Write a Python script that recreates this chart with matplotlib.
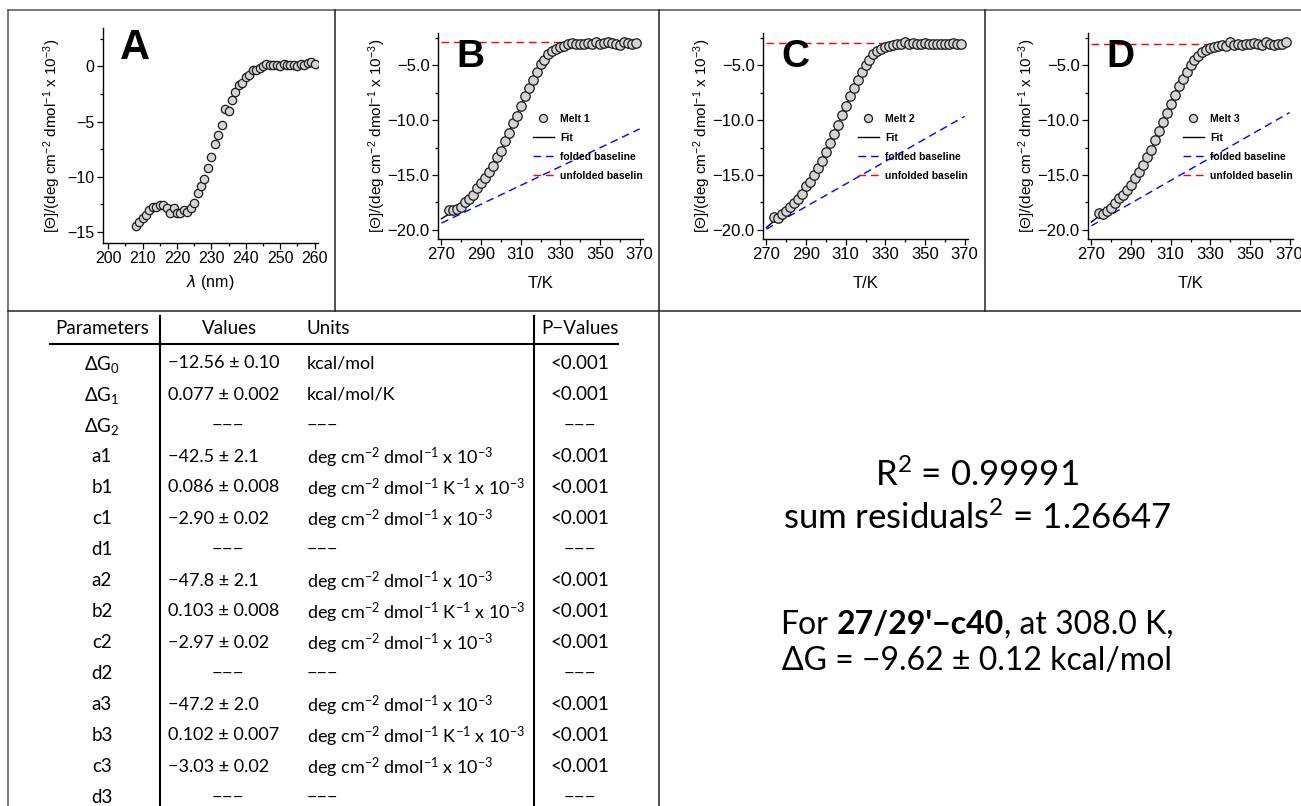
import numpy as np
import matplotlib
matplotlib.use("Agg")
import matplotlib.pyplot as plt
from matplotlib.lines import Line2D
from matplotlib.ticker import MultipleLocator, FixedLocator, FuncFormatter

plt.rcParams['font.family'] = ['Liberation Sans', 'DejaVu Sans']
plt.rcParams['mathtext.default'] = 'regular'
TABLE_FONT = ['Lato', 'DejaVu Sans']

# ---- panel A : CD spectrum ----
wavelength = [208, 209, 210, 211, 212, 213, 214, 215, 216, 217, 218, 219, 220,
              221, 222, 223, 224, 225, 226, 227, 228, 229, 230, 231, 232, 233,
              234, 235, 236, 237, 238, 239, 240, 241, 242, 243, 244, 245, 246,
              247, 248, 249, 250, 251, 252, 253, 254, 255, 256, 257, 258, 259, 260]
ellipticity = [-14.5, -14.1, -13.7, -13.5, -13.0, -12.7, -12.7, -12.6, -12.6, -12.8,
               -13.3, -12.8, -13.3, -13.3, -13.0, -13.2, -12.8, -12.4, -11.5, -10.8,
               -10.2, -9.2, -8.2, -7.0, -6.2, -5.3, -3.9, -4.0, -3.0, -2.3,
               -1.7, -1.5, -1.0, -0.8, -0.3, -0.3, -0.1, 0.0, 0.2, 0.1,
               0.1, 0.1, 0.0, 0.2, 0.1, 0.1, 0.1, 0.0, 0.2, 0.1, 0.3, 0.4, 0.2]

# ---- panels B-D : thermal melts ----
temps = [274, 276, 278, 280, 282, 284, 286, 288, 290, 292, 294, 296, 298, 300,
         302, 304, 306, 308, 310, 312, 314, 316, 318, 320, 322, 324, 326, 328,
         330, 332, 334, 336, 338, 340, 342, 344, 346, 348, 350, 352, 354, 356,
         358, 360, 362, 364, 366, 368]
melt1 = [-18.2, -18.2, -18.1, -17.9, -17.5, -17.2, -16.8, -16.2, -15.7, -15.3,
         -14.7, -14.2, -13.4, -12.8, -11.9, -11.2, -10.3, -9.6, -8.7, -7.8,
         -7.1, -6.3, -5.6, -4.9, -4.5, -4.0, -3.7, -3.5, -3.3, -3.2,
         -3.05, -2.95, -3.0, -3.0, -3.0, -2.95, -3.0, -2.9, -3.0, -2.95,
         -2.9, -2.95, -3.0, -3.15, -2.85, -2.95, -3.0, -2.95]
melt2 = [-18.8, -18.9, -18.6, -18.3, -17.9, -17.6, -17.2, -16.7, -16.0, -15.6,
         -15.0, -14.4, -13.7, -12.9, -12.1, -11.3, -10.4, -9.5, -8.7, -7.8,
         -7.1, -6.3, -5.6, -5.0, -4.5, -4.0, -3.7, -3.5, -3.35, -3.25,
         -3.15, -3.05, -3.0, -2.85, -3.0, -2.95, -3.0, -3.05, -2.95, -3.0,
         -3.0, -3.0, -3.05, -3.0, -3.0, -2.95, -3.05, -3.0]
melt3 = [-18.5, -18.6, -18.3, -18.0, -17.6, -17.1, -16.8, -16.4, -15.9, -15.3,
         -14.7, -14.1, -13.4, -12.7, -11.8, -11.0, -10.2, -9.3, -8.5, -7.7,
         -6.9, -6.2, -5.6, -5.0, -4.5, -4.1, -3.8, -3.6, -3.4, -3.3,
         -3.2, -3.1, -3.25, -2.85, -3.15, -3.05, -3.1, -3.0, -3.0, -2.95,
         -3.05, -3.1, -2.9, -3.0, -3.1, -3.05, -3.0, -2.85]

fit_temps = [270, 275, 280, 285, 290, 295, 300, 305, 310, 315, 320,
             325, 330, 335, 340, 345, 350, 355, 360, 365, 370]
fit1 = [-19.0, -18.45, -17.8, -16.95, -15.75, -14.45, -12.8, -10.75, -8.7, -6.7, -5.0,
        -3.85, -3.3, -3.05, -2.96, -2.93, -2.91, -2.9, -2.9, -2.9, -2.9]
fit2 = [-19.8, -19.05, -18.25, -17.35, -16.05, -14.7, -12.9, -10.85, -8.7, -6.7, -5.0,
        -3.9, -3.35, -3.12, -3.03, -2.99, -2.98, -2.97, -2.97, -2.97, -2.97]
fit3 = [-19.3, -18.6, -17.95, -17.0, -15.85, -14.4, -12.7, -10.6, -8.5, -6.55, -5.0,
        -3.95, -3.4, -3.15, -3.07, -3.04, -3.03, -3.03, -3.03, -3.03, -3.03]

baseline_temps = [270, 370]
folded1 = [-19.4, -10.8]
folded2 = [-19.95, -9.65]
folded3 = [-19.65, -9.3]
unfolded1 = [-2.90, -2.90]
unfolded2 = [-2.97, -2.97]
unfolded3 = [-3.03, -3.03]

melt_names = ['Melt 1', 'Melt 2', 'Melt 3']
panel_letters = ['A', 'B', 'C', 'D']

# ---- parameter table ----
U1 = r'deg cm$^{-2}$ dmol$^{-1}$ x 10$^{-3}$'
U2 = r'deg cm$^{-2}$ dmol$^{-1}$ K$^{-1}$ x 10$^{-3}$'
NA = '\u2212\u2212\u2212'
table_header = ['Parameters', 'Values', 'Units', 'P\u2212Values']
param_names = [r'ΔG$_0$', r'ΔG$_1$', r'ΔG$_2$', 'a1', 'b1', 'c1', 'd1',
               'a2', 'b2', 'c2', 'd2', 'a3', 'b3', 'c3', 'd3']
param_values = ['\u221212.56 ± 0.10', '0.077 ± 0.002', NA,
                '\u221242.5 ± 2.1', '0.086 ± 0.008', '\u22122.90 ± 0.02', NA,
                '\u221247.8 ± 2.1', '0.103 ± 0.008', '\u22122.97 ± 0.02', NA,
                '\u221247.2 ± 2.0', '0.102 ± 0.007', '\u22123.03 ± 0.02', NA]
param_units = ['kcal/mol', 'kcal/mol/K', NA, U1, U2, U1, NA, U1, U2, U1, NA, U1, U2, U1, NA]
param_p = ['<0.001', '<0.001', NA, '<0.001', '<0.001', '<0.001', NA,
           '<0.001', '<0.001', '<0.001', NA, '<0.001', '<0.001', '<0.001', NA]

r_squared = '0.99991'
sum_resid = '1.26647'
construct = "27/29'\u2212c40"
ref_temp = '308.0 K'
dG_text = '\u22129.62 ± 0.12 kcal/mol'

YLABEL = r'[Θ]/(deg cm$^{-2}$ dmol$^{-1}$ x 10$^{-3}$)'
FILL = '#d4d4d4'
EDGE = '#1a1a1a'

W, H = 1301, 806
fig = plt.figure(figsize=(W / 100, H / 100), dpi=100)


def fx(x):
    return x / W


def fy(y):
    return 1 - y / H


def add_ax(left, top, right, bottom):
    return fig.add_axes([fx(left), fy(bottom), (right - left) / W, (bottom - top) / H])


def style_ax(ax, size):
    for s in ['top', 'right']:
        ax.spines[s].set_visible(False)
    for s in ['left', 'bottom']:
        ax.spines[s].set_linewidth(1.0)
    ax.tick_params(which='both', direction='out', width=0.9, labelsize=size, pad=2)
    ax.tick_params(which='major', length=4)
    ax.tick_params(which='minor', length=2.5)


def fline(x0, y0, x1, y1, color='#333333', lw=1.0):
    fig.add_artist(Line2D([fx(x0), fx(x1)], [fy(y0), fy(y1)],
                          transform=fig.transFigure, color=color, lw=lw))


# panel A
axA = add_ax(103, 28, 318, 243)
axA.plot(wavelength, ellipticity, 'o', ms=6, mfc=FILL, mec=EDGE, mew=0.9)
axA.set_xlim(198.5, 261.0)
axA.set_ylim(-16.0, 3.48)
axA.xaxis.set_major_locator(MultipleLocator(10))
axA.xaxis.set_minor_locator(MultipleLocator(5))
axA.yaxis.set_major_locator(MultipleLocator(5))
axA.yaxis.set_minor_locator(MultipleLocator(2.5))
style_ax(axA, 11.5)
axA.set_ylabel(YLABEL, fontsize=11)
axA.yaxis.label.set_va('center')
axA.yaxis.set_label_coords(-0.237, 0.5)
axA.set_xlabel(r'$\mathit{\lambda}$ (nm)', fontsize=11.5, math_fontfamily='dejavusans')
axA.xaxis.label.set_va('center')
axA.xaxis.set_label_coords(0.5, -0.186)
fig.text(fx(135), fy(48), panel_letters[0], fontsize=30, fontweight='bold',
         ha='center', va='center')

melts = [melt1, melt2, melt3]
fits = [fit1, fit2, fit3]
foldeds = [folded1, folded2, folded3]
unfoldeds = [unfolded1, unfolded2, unfolded3]
offsets = [335, 660, 985]

for i in range(3):
    ox = offsets[i]
    ax = add_ax(ox + 103, 33, ox + 308, 239)
    l_fold, = ax.plot(baseline_temps, foldeds[i], color='#0000ff', lw=1.0,
                      dashes=(5.5, 3.5), label='folded baseline')
    l_unf, = ax.plot(baseline_temps, unfoldeds[i], color='#ff0000', lw=1.0,
                     dashes=(5.5, 3.5), label='unfolded baselin')
    l_fit, = ax.plot(fit_temps, fits[i], color='black', lw=1.0, label='Fit')
    l_pts, = ax.plot(temps, melts[i], 'o', ms=6.8, mfc=FILL, mec=EDGE, mew=0.9,
                     label=melt_names[i])
    ax.set_xlim(268.3, 371.7)
    ax.set_ylim(-20.85, -2.04)
    ax.xaxis.set_major_locator(FixedLocator([270, 290, 310, 330, 350, 370]))
    ax.xaxis.set_minor_locator(FixedLocator([280, 300, 320, 340, 360]))
    ax.yaxis.set_major_locator(MultipleLocator(5))
    ax.yaxis.set_minor_locator(MultipleLocator(2.5))
    ax.yaxis.set_major_formatter(FuncFormatter(lambda v, p: f'{v:.1f}'.replace('-', '\u2212')))
    style_ax(ax, 12)
    ax.set_ylabel(YLABEL, fontsize=11)
    ax.yaxis.label.set_va('center')
    ax.yaxis.set_label_coords(-0.298, 0.5)
    ax.set_xlabel('T/K', fontsize=12)
    ax.xaxis.label.set_va('center')
    ax.xaxis.set_label_coords(0.5, -0.214)
    ax.legend(handles=[l_pts, l_fit, l_fold, l_unf], loc='upper left',
              bbox_to_anchor=(0.463, 0.607), frameon=False, borderpad=0,
              borderaxespad=0, handlelength=2.0, handletextpad=0.6,
              labelspacing=0.85, markerscale=0.85,
              prop={'size': 7.5, 'weight': 'bold'})
    fig.text(fx(ox + 135), fy(57), panel_letters[i + 1], fontsize=28,
             fontweight='bold', ha='center', va='center')

# frame and dividers
fline(8, 10, W, 10, '#555555', 1.1)
fline(8, 10, 8, H, '#555555', 1.1)
fline(8, 311, W, 311, '#222222', 1.1)
for xd in [335, 985]:
    fline(xd, 10, xd, 311, '#222222', 1.1)
fline(659, 10, 659, H, '#222222', 1.1)

# table
TS = 13.5
VS = 13.0
row_y0, row_dy = 362, 31.0
fline(160, 316, 160, H, 'black', 1.5)
fline(534, 316, 534, H, 'black', 1.5)
fline(50, 344, 618, 344, 'black', 1.5)
hy = fy(328)
fig.text(fx(102), hy, table_header[0], ha='center', va='center', fontsize=TS, family=TABLE_FONT)
fig.text(fx(229), hy, table_header[1], ha='center', va='center', fontsize=TS, family=TABLE_FONT)
fig.text(fx(307), hy, table_header[2], ha='left', va='center', fontsize=TS, family=TABLE_FONT)
fig.text(fx(580), hy, table_header[3], ha='center', va='center', fontsize=TS, family=TABLE_FONT)
for k in range(len(param_names)):
    yy = fy(row_y0 + k * row_dy)
    fig.text(fx(102), yy, param_names[k], ha='center', va='center_baseline',
             fontsize=TS, family=TABLE_FONT)
    if param_values[k] == NA:
        fig.text(fx(228), yy, NA, ha='center', va='center_baseline', fontsize=TS, family=TABLE_FONT)
    else:
        fig.text(fx(168), yy, param_values[k], ha='left', va='center_baseline',
                 fontsize=VS, family=TABLE_FONT)
    fig.text(fx(307), yy, param_units[k], ha='left', va='center_baseline',
             fontsize=VS, family=TABLE_FONT)
    fig.text(fx(580), yy, param_p[k], ha='center', va='center_baseline',
             fontsize=TS, family=TABLE_FONT)

# fit summary text
RS = 25
RS2 = 23
CX = 977
fig.text(fx(CX), fy(472), r'R$^2$ = ' + r_squared, ha='center', va='center_baseline',
         fontsize=RS, family=TABLE_FONT)
fig.text(fx(CX), fy(515), r'sum residuals$^2$ = ' + sum_resid, ha='center',
         va='center_baseline', fontsize=RS, family=TABLE_FONT)
fig.text(fx(CX), fy(658), 'ΔG = ' + dG_text, ha='center', va='center_baseline',
         fontsize=RS2, family=TABLE_FONT)

renderer = fig.canvas.get_renderer()


def text_w(s, weight='normal'):
    t = fig.text(0, 0, s, fontsize=RS2, fontweight=weight, family=TABLE_FONT)
    w = t.get_window_extent(renderer).width
    t.remove()
    return w


space_w = text_w('x x') - text_w('xx')
pieces = [('For', 'normal', space_w), (construct, 'bold', 0),
          (', at ' + ref_temp + ',', 'normal', 0)]
total = sum(text_w(s, wt) + g for s, wt, g in pieces)
xcur = CX - total / 2
for s, wt, g in pieces:
    fig.text(fx(xcur), fy(622), s, ha='left', va='center_baseline', fontsize=RS2,
             fontweight=wt, family=TABLE_FONT)
    xcur += text_w(s, wt) + g

fig.savefig('out.png', dpi=100)
